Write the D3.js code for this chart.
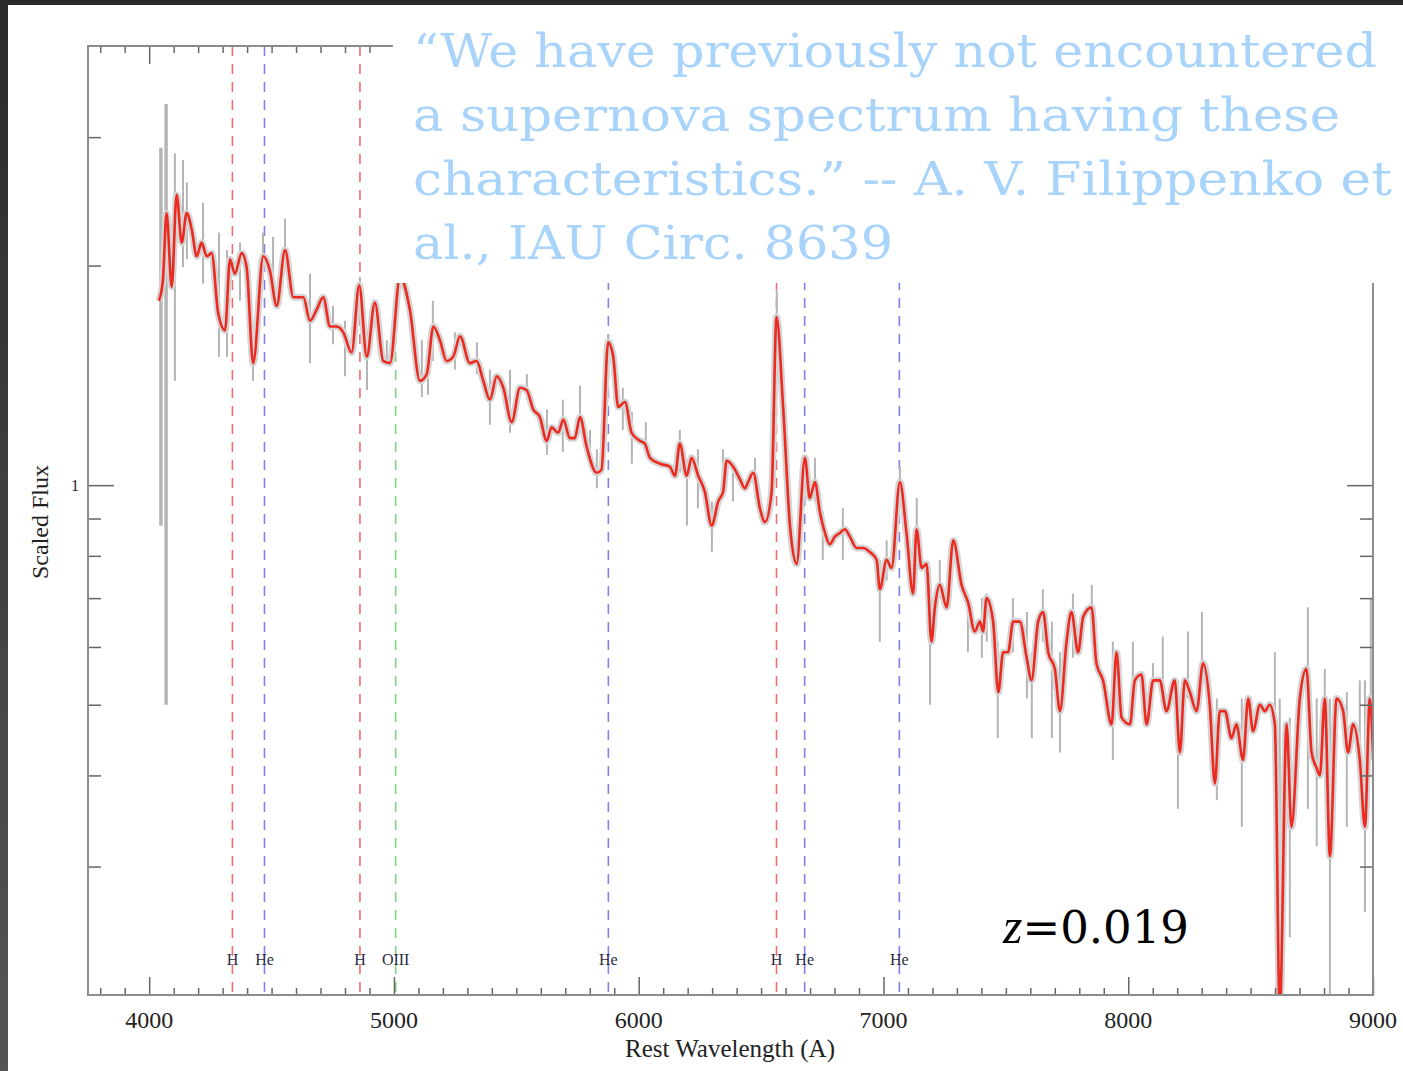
<!DOCTYPE html>
<html>
<head>
<meta charset="utf-8">
<script src="https://cdn.jsdelivr.net/npm/d3@7"></script>
<style>
html, body { margin: 0; padding: 0; background: #333; }
svg { display: block; }
</style>
</head>
<body>
<div id="viz"></div>
<script>
//==============================================================================
// Data

// smoothed spectrum: [rest wavelength (A), scaled flux]
var spectrum = [
	[4040,1.79],[4056,1.91],[4071,2.36],[4092,1.87],[4112,2.50],[4133,2.15],[4153,2.36],[4174,2.24],
	[4194,2.06],[4214,2.15],[4235,2.06],[4255,2.08],[4282,1.72],[4310,1.63],[4330,2.04],[4350,1.95],
	[4378,2.08],[4398,1.99],[4425,1.47],[4466,2.06],[4493,1.97],[4521,1.76],[4555,2.10],[4589,1.81],
	[4630,1.81],[4657,1.68],[4684,1.74],[4711,1.81],[4739,1.65],[4766,1.65],[4793,1.62],[4827,1.52],
	[4858,1.88],[4889,1.50],[4922,1.78],[4956,1.48],[4984,1.47],[5025,1.93],
	[5065,1.74],[5106,1.39],[5134,1.42],[5161,1.65],[5188,1.58],[5215,1.48],[5242,1.50],[5270,1.60],
	[5310,1.47],[5338,1.48],[5365,1.39],[5392,1.31],[5420,1.41],[5447,1.36],[5481,1.22],[5515,1.36],
	[5542,1.35],[5569,1.27],[5596,1.24],[5624,1.15],[5644,1.20],[5671,1.18],[5692,1.23],[5719,1.16],
	[5739,1.16],[5760,1.24],[5787,1.13],[5828,1.04],[5848,1.05],[5875,1.57],[5896,1.50],[5916,1.28],
	[5944,1.30],[5971,1.18],[6005,1.15],[6025,1.14],[6046,1.09],[6087,1.07],[6127,1.06],[6148,1.03],
	[6168,1.14],[6196,1.03],[6216,1.09],[6243,1.03],[6270,0.98],[6298,0.88],[6325,0.95],[6345,0.98],
	[6359,1.08],[6386,1.06],[6413,1.02],[6434,0.99],[6447,1.01],[6468,1.04],[6495,0.93],[6516,0.89],
	[6543,0.98],[6563,1.70],[6590,1.28],[6618,0.88],[6645,0.78],[6679,1.09],[6699,0.96],[6720,1.01],
	[6740,0.92],[6761,0.86],[6781,0.83],[6801,0.85],[6822,0.86],[6842,0.87],[6863,0.85],[6890,0.82],
	[6917,0.82],[6944,0.81],[6972,0.79],[6985,0.72],[7013,0.79],[7033,0.77],[7067,1.01],
	[7094,0.86],[7121,0.71],[7135,0.87],[7156,0.77],[7176,0.78],[7196,0.61],[7210,0.68],[7230,0.73],
	[7258,0.68],[7285,0.84],[7319,0.73],[7346,0.69],[7373,0.63],[7394,0.65],[7407,0.63],[7421,0.70],
	[7448,0.65],[7469,0.52],[7489,0.59],[7509,0.59],[7530,0.65],[7557,0.65],[7585,0.58],[7605,0.54],
	[7632,0.65],[7652,0.67],[7673,0.59],[7700,0.56],[7721,0.49],[7748,0.61],[7768,0.67],[7795,0.59],
	[7816,0.66],[7850,0.68],[7870,0.57],[7897,0.54],[7932,0.47],[7952,0.59],[7973,0.48],[8007,0.47],
	[8027,0.54],[8054,0.55],[8075,0.47],[8102,0.54],[8129,0.54],[8156,0.49],[8190,0.54],[8211,0.43],
	[8231,0.54],[8252,0.52],[8279,0.49],[8306,0.57],[8333,0.50],[8354,0.39],[8374,0.49],[8395,0.49],
	[8422,0.45],[8442,0.47],[8469,0.42],[8490,0.51],[8510,0.46],[8538,0.50],[8558,0.49],[8578,0.50],
	[8599,0.47],[8619,0.19],[8647,0.47],[8667,0.34],[8701,0.51],[8728,0.56],[8749,0.43],[8769,0.41],
	[8783,0.40],[8803,0.51],[8824,0.31],[8851,0.51],[8878,0.49],[8898,0.43],[8919,0.47],[8946,0.42],
	[8967,0.34],[8987,0.51],[9000,0.43]
];

// error bars: [wavelength, low, high]
var errorBars = [
	[4048,0.88,2.90],[4069,0.50,3.33],[4105,1.39,2.85],[4138,1.99,2.79],[4154,2.04,2.60],[4220,1.89,2.44],
	[4285,1.50,2.22],[4318,1.50,2.10],[4371,1.79,2.15],[4424,1.39,1.63],[4465,1.91,2.22],[4506,1.83,2.19],
	[4555,1.99,2.32],[4657,1.47,1.95],[4751,1.56,1.76],[4800,1.41,1.68],[4861,1.68,1.93],[4890,1.35,1.63],
	[4971,1.47,1.58],[5114,1.32,1.58],[5139,1.33,1.58],[5159,1.48,1.79],[5249,1.44,1.62],[5339,1.42,1.57],
	[5392,1.21,1.44],[5474,1.18,1.44],[5543,1.31,1.42],[5625,1.10,1.27],[5690,1.11,1.31],[5760,1.18,1.37],
	[5801,1.07,1.19],[5829,0.99,1.12],[5875,1.48,1.61],[5935,1.19,1.36],[5972,1.07,1.26],[6029,1.10,1.22],
	[6168,1.04,1.19],[6197,0.88,1.08],[6242,0.93,1.12],[6299,0.81,0.95],[6344,0.98,1.12],[6385,0.95,1.04],
	[6475,0.96,1.09],[6564,1.58,1.85],[6720,0.95,1.09],[6752,0.79,0.92],[6834,0.79,0.93],[6985,0.61,0.79],
	[7013,0.74,0.84],[7067,0.95,1.06],[7136,0.80,0.96],[7190,0.50,0.70],[7230,0.70,0.79],[7345,0.59,0.71],
	[7402,0.58,0.70],[7422,0.61,0.71],[7467,0.45,0.61],[7529,0.59,0.70],[7586,0.51,0.67],[7606,0.45,0.59],
	[7651,0.61,0.72],[7688,0.45,0.65],[7721,0.43,0.59],[7774,0.58,0.71],[7851,0.61,0.73],[7937,0.42,0.61],
	[8019,0.48,0.61],[8101,0.51,0.57],[8141,0.51,0.62],[8203,0.36,0.54],[8244,0.51,0.63],[8301,0.52,0.67],
	[8362,0.37,0.51],[8464,0.34,0.51],[8599,0.45,0.59],[8619,0.19,0.51],[8660,0.24,0.48],[8734,0.36,0.68],
	[8770,0.32,0.51],[8803,0.48,0.56],[8824,0.19,0.51],[8893,0.34,0.52],[8946,0.39,0.54],[8967,0.26,0.54],
	[8991,0.42,0.70]
];

// identified lines
var lineNames = ["H", "He", "H", "OIII", "He", "H", "He", "He"];
var lineWaves = [4340, 4471, 4861, 5007, 5876, 6563, 6678, 7065];

// ticks
var xTickLabels = [4000, 5000, 6000, 7000, 8000, 9000];
var yMinorTicks = [0.3, 0.4, 0.5, 0.6, 0.7, 0.8, 0.9, 2, 3];
var yMajorTicks = [1];

var quoteLines = [
	"\u201cWe have previously not encountered",
	"a supernova spectrum having these",
	"characteristics.\u201d -- A. V. Filippenko et",
	"al., IAU Circ. 8639"
];


//==============================================================================
// Layout
var width = 1403, height = 1071;
var plotL = 88, plotR = 1373, plotT = 46, plotB = 995;
var serif = "'Liberation Serif', 'Times New Roman', serif";
var lineColor = {H: "#e87070", He: "#7f7fe6", OIII: "#7fd67f"};

var x = d3.scaleLinear().domain([3750, 9000]).range([plotL, plotR]);
var y = d3.scaleLog().domain([0.2, 4]).range([plotB, plotT]);

var svg = d3.select("#viz")
	.append("svg")
	.attr("width", width)
	.attr("height", height);

// dark slide border
var grad = svg.append("defs").append("linearGradient")
	.attr("id", "edge")
	.attr("x1", 0).attr("y1", 0).attr("x2", 0).attr("y2", 1);
grad.append("stop").attr("offset", "0%").attr("stop-color", "#2a2a2a");
grad.append("stop").attr("offset", "100%").attr("stop-color", "#555");

svg.append("clipPath").attr("id", "plotclip")
	.append("rect")
	.attr("x", plotL).attr("y", plotT)
	.attr("width", plotR - plotL).attr("height", plotB - plotT);

svg.append("rect")
	.attr("width", width).attr("height", height)
	.attr("fill", "url(#edge)");
svg.append("rect")
	.attr("x", 8).attr("y", 5)
	.attr("width", width - 8).attr("height", height - 5)
	.attr("fill", "#fff");

//==============================================================================
// Dashed line markers
var markers = svg.append("g").attr("class", "markers");
markers.selectAll("line")
	.data(lineWaves)
	.enter().append("line")
	.attr("x1", function(d) { return x(d); })
	.attr("x2", function(d) { return x(d); })
	.attr("y1", plotT)
	.attr("y2", plotB)
	.attr("stroke", function(d, i) { return lineColor[lineNames[i]]; })
	.attr("stroke-width", 1.6)
	.attr("stroke-dasharray", "10,8");

//==============================================================================
// Spectrum
var plot = svg.append("g").attr("clip-path", "url(#plotclip)");

plot.selectAll(".err")
	.data(errorBars)
	.enter().append("line")
	.attr("class", "err")
	.attr("x1", function(d) { return x(d[0]); })
	.attr("x2", function(d) { return x(d[0]); })
	.attr("y1", function(d) { return y(d[1]); })
	.attr("y2", function(d) { return y(d[2]); })
	.attr("stroke", "#b4b4b4")
	.attr("stroke-width", function(d, i) { return i < 2 ? 3.5 : 2; });

var specLine = d3.line()
	.curve(d3.curveMonotoneX)
	.x(function(d) { return x(d[0]); })
	.y(function(d) { return y(d[1]); });

// grey band from the dense error bars under the smoothed curve
plot.append("path")
	.datum(spectrum)
	.attr("d", specLine)
	.attr("fill", "none")
	.attr("stroke", "#d4d4d4")
	.attr("stroke-width", 7)
	.attr("stroke-linejoin", "round");

plot.append("path")
	.datum(spectrum)
	.attr("d", specLine)
	.attr("fill", "none")
	.attr("stroke", "#ec2a20")
	.attr("stroke-width", 2.6)
	.attr("stroke-linejoin", "round");

//==============================================================================
// Frame and ticks
var minorX = d3.range(3800, 9000, 100).filter(function(d) { return d % 1000 !== 0; });

function noDomain(g) { g.select(".domain").remove(); g.selectAll("text").remove(); }

function tickStyle(g) {
	g.selectAll("line").attr("stroke", "#666").attr("stroke-width", 1.5);
}

svg.append("g").attr("transform", "translate(0," + plotB + ")")
	.call(d3.axisBottom(x).tickValues(minorX).tickSize(-7)).call(noDomain).call(tickStyle);
svg.append("g").attr("transform", "translate(0," + plotB + ")")
	.call(d3.axisBottom(x).tickValues(xTickLabels).tickSize(-18)).call(noDomain).call(tickStyle);
svg.append("g").attr("transform", "translate(0," + plotT + ")")
	.call(d3.axisTop(x).tickValues(minorX).tickSize(-7)).call(noDomain).call(tickStyle);
svg.append("g").attr("transform", "translate(0," + plotT + ")")
	.call(d3.axisTop(x).tickValues(xTickLabels).tickSize(-18)).call(noDomain).call(tickStyle);

svg.append("g").attr("transform", "translate(" + plotL + ",0)")
	.call(d3.axisLeft(y).tickValues(yMinorTicks).tickSize(-13)).call(noDomain).call(tickStyle);
svg.append("g").attr("transform", "translate(" + plotL + ",0)")
	.call(d3.axisLeft(y).tickValues(yMajorTicks).tickSize(-26)).call(noDomain).call(tickStyle);
svg.append("g").attr("transform", "translate(" + plotR + ",0)")
	.call(d3.axisRight(y).tickValues(yMinorTicks).tickSize(-13)).call(noDomain).call(tickStyle);
svg.append("g").attr("transform", "translate(" + plotR + ",0)")
	.call(d3.axisRight(y).tickValues(yMajorTicks).tickSize(-26)).call(noDomain).call(tickStyle);

svg.append("rect")
	.attr("x", plotL).attr("y", plotT)
	.attr("width", plotR - plotL).attr("height", plotB - plotT)
	.attr("fill", "none")
	.attr("stroke", "#8c8c8c")
	.attr("stroke-width", 2);

// tick labels
svg.selectAll(".xlab")
	.data(xTickLabels)
	.enter().append("text")
	.attr("class", "xlab")
	.attr("x", function(d) { return x(d); })
	.attr("y", 1028)
	.attr("text-anchor", "middle")
	.style("font-family", serif)
	.style("font-size", "24px")
	.attr("fill", "#222")
	.text(function(d) { return d; });

svg.selectAll(".ylab")
	.data(yMajorTicks)
	.enter().append("text")
	.attr("class", "ylab")
	.attr("x", plotL - 9)
	.attr("y", function(d) { return y(d) + 6; })
	.attr("text-anchor", "end")
	.style("font-family", serif)
	.style("font-size", "16px")
	.attr("fill", "#222")
	.text(function(d) { return d; });

// axis titles
svg.append("text")
	.attr("x", 730)
	.attr("y", 1057)
	.attr("text-anchor", "middle")
	.style("font-family", serif)
	.style("font-size", "25px")
	.attr("fill", "#222")
	.text("Rest Wavelength (A)");

svg.append("text")
	.attr("transform", "translate(48,522) rotate(-90)")
	.attr("text-anchor", "middle")
	.style("font-family", serif)
	.style("font-size", "24px")
	.attr("fill", "#222")
	.text("Scaled Flux");

// line identifications
svg.selectAll(".ident")
	.data(lineWaves)
	.enter().append("text")
	.attr("class", "ident")
	.attr("x", function(d) { return x(d); })
	.attr("y", 965)
	.attr("text-anchor", "middle")
	.style("font-family", serif)
	.style("font-size", "16px")
	.attr("fill", "#2a2a44")
	.text(function(d, i) { return lineNames[i]; });

//==============================================================================
// Quote box and redshift
svg.append("rect")
	.attr("x", 393).attr("y", 5)
	.attr("width", width - 393).attr("height", 278)
	.attr("fill", "#fff");

var quoteWidths = [964, 927, 979, 480];
svg.selectAll(".quote")
	.data(quoteLines)
	.enter().append("text")
	.attr("class", "quote")
	.attr("x", 413)
	.attr("y", function(d, i) { return 67 + i * 64; })
	.attr("textLength", function(d, i) { return quoteWidths[i]; })
	.attr("lengthAdjust", "spacingAndGlyphs")
	.style("font-family", "'DejaVu Serif', serif")
	.style("font-size", "47px")
	.attr("fill", "#a8d3fa")
	.text(function(d) { return d; });

var zText = svg.append("text")
	.attr("x", 1003)
	.attr("y", 943)
	.style("font-family", "'DejaVu Serif', serif")
	.style("font-size", "45px")
	.attr("fill", "#000");
zText.append("tspan").style("font-style", "italic").style("font-family", serif).style("font-size", "50px").text("z");
zText.append("tspan").text("=0.019");
</script>
</body>
</html>
